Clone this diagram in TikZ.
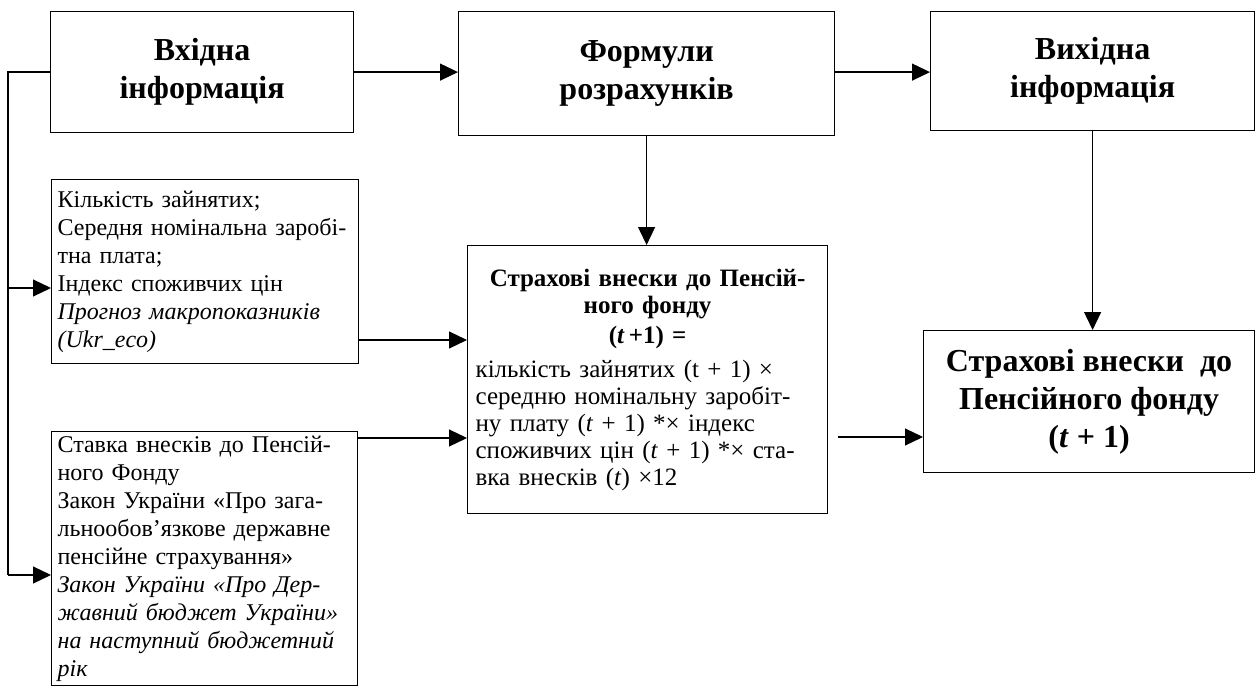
\documentclass[tikz,border=0pt]{standalone}
\usepackage{fontspec}
\setmainfont{Liberation Serif}
\usetikzlibrary{arrows.meta,positioning}

\begin{document}
\begin{tikzpicture}[x=1pt,y=-1pt]
    \tikzstyle{head} = [rectangle, draw, line width=1.2pt, align=center, anchor=north west, inner sep=0pt, font=\bfseries\fontsize{32}{38}\selectfont]
    \tikzstyle{datablock} = [rectangle, draw, line width=1.2pt, align=left, anchor=north west, inner xsep=6pt, font=\fontsize{24}{28}\selectfont]
    \tikzstyle{arrow} = [line width=1.2pt,-{Triangle[length=18pt,width=17pt]}]
    \useasboundingbox (0,0) rectangle (1256,690);

    \node (input) [head, minimum width=303pt, minimum height=121pt] at (50,11) {Вхідна\\інформація};
    \node (formula) [head, minimum width=376pt, minimum height=124pt] at (458,11) {Формули\\розрахунків};
    \node (output) [head, minimum width=324pt, minimum height=119pt] at (930,11) {Вихідна\\інформація};

    \node (dataA) [datablock, text width=295pt, minimum height=184pt] at (51,179) {Кількість зайнятих;\\Середня номінальна заробі-\\тна плата;\\Індекс споживчих цін\\\textit{Прогноз макропоказників}\\\textit{(Ukr\_eco)}};
    \node (dataB) [datablock, text width=294pt, inner ysep=4pt] at (51,431) {Ставка внесків до Пенсій-\\ного Фонду\\Закон України «Про зага-\\льнообов’язкове державне\\пенсійне страхування»\\\textit{Закон України «Про Дер-}\\\textit{жавний бюджет України»}\\\textit{на наступний бюджетний}\\\textit{рік}};

    \node (calc) [datablock, text width=344pt, inner xsep=8pt, minimum width=360pt, minimum height=268pt, font=\fontsize{25}{27}\selectfont] at (467,245) {{\centering\bfseries Страхові внески до Пенсій-\\ного фонду\\[3pt](\textit{t}\,+1) =\par}\vspace{7pt}кількість зайнятих (t + 1) ×\\середню номінальну заробіт-\\ну плату (\textit{t} + 1) *× індекс\\споживчих цін (\textit{t} + 1) *× ста-\\вка внесків (\textit{t}) ×12};

    \node (result) [head, minimum width=331pt, minimum height=142pt] at (923,330) {Страхові внески\ \ до\\Пенсійного фонду\\(\textit{t} + 1)};

    % points where the connectors turn or meet the boxes
    \coordinate (busA) at (8,288);
    \coordinate (busB) at (8,575);
    \coordinate (linkA) at (0,340);
    \coordinate (linkB) at (0,438);
    \coordinate (linkR) at (0,437);

    \draw [arrow] (input.east) -- (formula.west |- input.east);
    \draw [arrow] (formula.east |- input.east) -- (output.west |- input.east);
    \draw [line width=1.2pt] (input.west) -| (busB);
    \draw [arrow] (busA) -- (busA -| dataA.west);
    \draw [arrow] (busB) -- (busB -| dataB.west);
    \draw [arrow] (dataA.east |- linkA) -- (calc.west |- linkA);
    \draw [arrow] (dataB.east |- linkB) -- (calc.west |- linkB);
    \draw [arrow] (formula.south) -- (formula.south |- calc.north);
    \draw [arrow] (output.south) -- (output.south |- result.north);
    \draw [arrow, shorten <=10pt] (calc.east |- linkR) -- (result.west |- linkR);

\end{tikzpicture}
\end{document}
